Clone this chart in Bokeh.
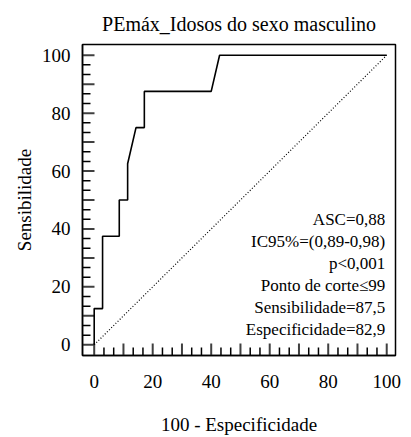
from bokeh.plotting import figure
from bokeh.models import Range1d, FixedTicker, CustomJSTickFormatter, Label
from bokeh.embed import file_html
from bokeh.resources import INLINE
import math

# ROC curve data (100 - Especificidade, Sensibilidade)
fpr = [0, 0, 2.86, 2.86, 8.57, 8.57, 11.43, 11.43, 14.29, 17.14, 17.14, 40.0, 42.86, 100]
tpr = [0, 12.5, 12.5, 37.5, 37.5, 50.0, 50.0, 62.5, 75.0, 75.0, 87.5, 87.5, 100, 100]
diag_x = [0, 100]
diag_y = [0, 100]

major_ticks = [0, 10, 20, 30, 40, 50, 60, 70, 80, 90, 100]
minor_ticks = [i * 10 / 3 for i in range(31) if i % 3 != 0]

ann_text = ["ASC=0,88", "IC95%=(0,89-0,98)", "p<0,001",
            "Ponto de corte\u226499", "Sensibilidade=87,5", "Especificidade=82,9"]

FONT = "Liberation Serif"
X0, X1 = -4, 103
Y0, Y1 = -3.7, 103.7
FW, FH = 313, 311

p = figure(width=402, height=425, output_backend="svg", toolbar_location=None,
           x_range=Range1d(X0, X1), y_range=Range1d(Y0, Y1),
           frame_width=FW, frame_height=FH,
           min_border_left=82, min_border_right=7, min_border_top=44, min_border_bottom=70,
           title="PEmáx_Idosos do sexo masculino")

p.title.align = "center"
p.title.text_font = FONT
p.title.text_font_size = "20px"
p.title.text_font_style = "normal"
p.title.text_color = "black"
p.title.standoff = 20

p.grid.visible = False
p.outline_line_color = "black"
p.outline_line_width = 1.5
p.background_fill_color = "white"
p.border_fill_color = "white"

fmt = CustomJSTickFormatter(code="return (Math.round(tick) % 20 === 0) ? Math.round(tick).toString() : '';")

for ax in (p.xaxis[0], p.yaxis[0]):
    ax.ticker = FixedTicker(ticks=major_ticks, minor_ticks=[])
    ax.formatter = fmt
    ax.major_tick_in = 0
    ax.major_tick_out = 0
    ax.minor_tick_in = 0
    ax.minor_tick_out = 0
    ax.axis_line_color = "black"
    ax.axis_line_width = 1.5
    ax.major_label_text_font = FONT
    ax.major_label_text_font_size = "19px"
    ax.major_label_text_color = "black"
    ax.axis_label_text_font = FONT
    ax.axis_label_text_font_size = "19px"
    ax.axis_label_text_font_style = "normal"
    ax.axis_label_text_color = "black"

p.xaxis.axis_label = "100 - Especificidade"
p.yaxis.axis_label = "Sensibilidade"
p.xaxis.major_label_standoff = 19
p.xaxis.axis_label_standoff = 23
p.yaxis.major_label_standoff = 12
p.yaxis.axis_label_standoff = 4

# inward ticks: dash markers centred on the frame edge (clipped to the frame,
# so only the inner half shows)
MAJ, MIN = 12, 8
p.scatter(x=major_ticks, y=[Y0] * len(major_ticks), marker="dash", size=2 * MAJ,
          angle=math.pi / 2, line_color="#404040", line_width=2)
p.scatter(x=minor_ticks, y=[Y0] * len(minor_ticks), marker="dash", size=2 * MIN,
          angle=math.pi / 2, line_color="black", line_width=1.5)
p.scatter(x=[X0] * len(major_ticks), y=major_ticks, marker="dash", size=2 * MAJ,
          line_color="#404040", line_width=2)
p.scatter(x=[X0] * len(minor_ticks), y=minor_ticks, marker="dash", size=2 * MIN,
          line_color="black", line_width=1.5)

p.line(diag_x, diag_y, line_color="black", line_width=1.2, line_dash="1 2")
p.line(fpr, tpr, line_color="black", line_width=1.6)

for i, t in enumerate(ann_text):
    p.add_layout(Label(x=99.5, y=43.4 - 7.65 * i, text=t, text_align="right",
                       text_baseline="middle", text_font=FONT, text_font_size="17px",
                       text_color="black"))

open("out.html", "w").write(file_html(p, INLINE))
